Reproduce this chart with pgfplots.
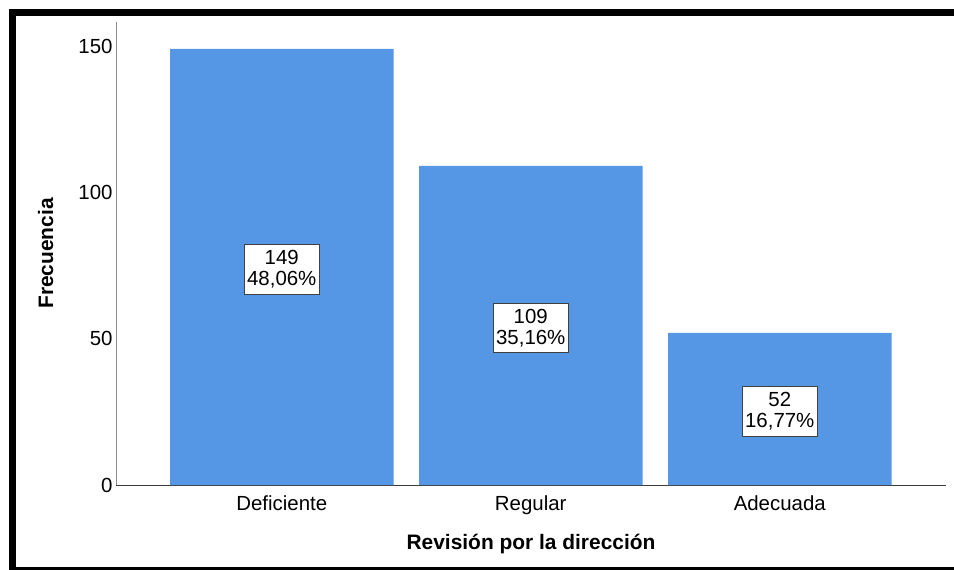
\documentclass[border=0pt]{standalone}
\usepackage{pgfplots}
\usepackage{pgfplotstable}
\pgfplotsset{compat=1.18}
\usepackage{fontspec}
\setmainfont{Liberation Sans}

\definecolor{barblue}{RGB}{85,150,229}
\definecolor{yline}{RGB}{140,140,140}
\definecolor{xline}{RGB}{60,60,60}

% category position, frequency, percentage
\pgfplotstableread{
x n pct
0 149 48.06
1 109 35.16
2 52 16.77
}\revision

\begin{document}
\begin{tikzpicture}
\useasboundingbox (0,0) rectangle (954bp,570bp);
\begin{scope}
\clip (0,0) rectangle (954bp,570bp);
% outer frame: left, top and bottom edges
\draw[line width=7bp] (1100bp,557.5bp) -- (12.5bp,557.5bp) -- (12.5bp,-0.5bp) -- (1100bp,-0.5bp);
\end{scope}
\begin{axis}[
  at={(116bp,85bp)}, anchor=south west,
  scale only axis,
  width=830bp, height=463bp,
  xmin=-0.6657, xmax=2.6677,
  ymin=0, ymax=158.2,
  axis x line*=bottom, axis y line*=left,
  x axis line style={xline, line width=1bp, -},
  y axis line style={yline, line width=1bp, -},
  xtick=data,
  xticklabels={Deficiente, Regular, Adecuada},
  ytick={0,50,100,150},
  major tick length=0pt,
  /pgf/number format/assume math mode=true,
  tick label style={font=\fontsize{20.5}{24}\selectfont, black},
  xticklabel style={yshift=-7bp},
  xlabel={Revisión por la dirección},
  ylabel={Frecuencia},
  xlabel style={at={(axis description cs:0.5,-0.1274)}, anchor=center,
    font=\bfseries\fontsize{21}{24}\selectfont},
  ylabel style={at={(axis description cs:-0.0849,0.5)}, anchor=center, rotate=0,
    font=\bfseries\fontsize{21}{24}\selectfont},
  clip=false,
]
\addplot[ybar, bar width=223.5bp, fill=barblue, draw=none, bar shift=0pt]
  table[x=x, y=n] {\revision};
\addplot[draw=none, mark=none,
  visualization depends on={\thisrow{n} \as \freq},
  visualization depends on={\thisrow{pct} \as \share},
  nodes near coords={\pgfmathprintnumber[fixed,precision=0]{\freq}\\\pgfmathprintnumber[fixed,precision=2,fixed zerofill,use comma]{\share}\%},
  every node near coord/.style={anchor=center, align=center, fill=white,
    draw=black!75, line width=0.8bp, inner xsep=3bp, inner ysep=5.5bp,
    yshift=-2.5bp,
    font=\fontsize{20.5}{21.5}\selectfont, text=black},
] table[x=x, y expr=\thisrow{n}/2] {\revision};
\end{axis}
\end{tikzpicture}
\end{document}
